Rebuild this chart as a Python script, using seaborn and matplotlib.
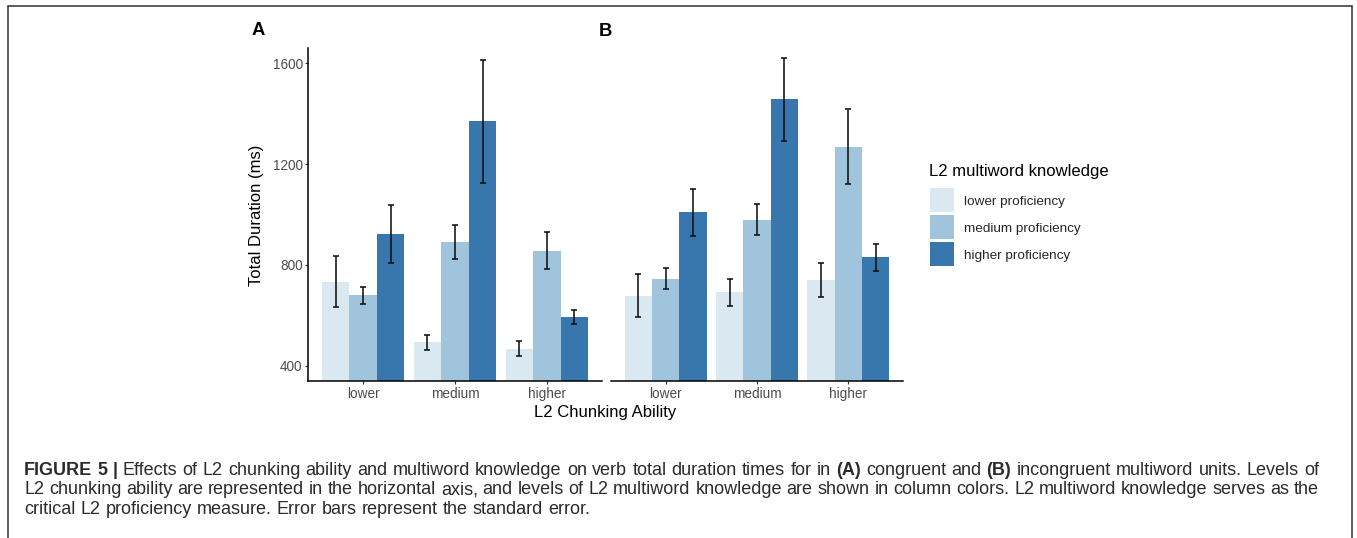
import numpy as np
import pandas as pd
import matplotlib
matplotlib.use("Agg")
import matplotlib.pyplot as plt
from matplotlib.lines import Line2D
from matplotlib.container import BarContainer
import seaborn as sns

# ---------------- data ----------------
chunk_levels = ["lower", "medium", "higher"]
know_levels = ["lower proficiency", "medium proficiency", "higher proficiency"]

# Panel A (congruent): rows = chunking level, cols = knowledge level
a_means = [[733, 680, 923],
           [493, 890, 1369],
           [468, 856, 593]]
a_se = [[101, 34, 116],
        [31, 68, 243],
        [30, 74, 29]]

# Panel B (incongruent)
b_means = [[678, 745, 1008],
           [692, 979, 1456],
           [739, 1269, 830]]
b_se = [[85, 41, 95],
        [53, 61, 163],
        [68, 149, 54]]

y_ticks = [400, 800, 1200, 1600]
palette = ["#DAE8F2", "#9FC4DB", "#3777AD"]

caption_lines = [
    "FIGURE 5 | Effects of L2 chunking ability and multiword knowledge on verb total duration times for in (A) congruent and (B) incongruent multiword units. Levels of",
    "L2 chunking ability are represented in the horizontal axis, and levels of L2 multiword knowledge are shown in column colors. L2 multiword knowledge serves as the",
    "critical L2 proficiency measure. Error bars represent the standard error.",
]
bold_words = {"FIGURE", "5", "|", "(A)", "(B)"}

# ---------------- style ----------------
sns.set_theme(style="white")
plt.rcParams["font.family"] = ["Liberation Sans", "DejaVu Sans"]

W, H = 1357, 538
fig = plt.figure(figsize=(W / 100, H / 100), dpi=100)


def fx(px):
    return px / W


def fy(py):
    return 1 - py / H


top_px, bot_px = 48, 381
axA = fig.add_axes([fx(308), fy(bot_px), fx(602) - fx(308), fy(top_px) - fy(bot_px)])
axB = fig.add_axes([fx(611), fy(bot_px), fx(903) - fx(611), fy(top_px) - fy(bot_px)])


def make_df(means, se):
    rows = []
    for i, c in enumerate(chunk_levels):
        for j, k in enumerate(know_levels):
            rows.append({"chunk": c, "know": k, "value": means[i][j], "se": se[i][j]})
    return pd.DataFrame(rows)


for ax, means, se, leg in [(axA, a_means, a_se, False), (axB, b_means, b_se, True)]:
    df = make_df(means, se)
    sns.barplot(data=df, x="chunk", y="value", hue="know", order=chunk_levels,
                hue_order=know_levels, palette=palette, saturation=1,
                errorbar=None, width=0.9, gap=0, linewidth=0, ax=ax, legend=leg)
    bar_conts = [c for c in ax.containers if isinstance(c, BarContainer)]
    for j, cont in enumerate(bar_conts):
        xs = [b.get_x() + b.get_width() / 2 for b in cont]
        ys = [means[i][j] for i in range(len(chunk_levels))]
        es = [se[i][j] for i in range(len(chunk_levels))]
        ax.errorbar(xs, ys, yerr=es, fmt="none", ecolor="#111111",
                    elinewidth=1.15, capsize=2.1, capthick=1.15, zorder=5)
    ax.set_xlim(-0.6, 2.6)
    ax.set_ylim(340, 1660)
    ax.set_xlabel("")
    ax.set_ylabel("")
    for s in ["top", "right"]:
        ax.spines[s].set_visible(False)
    ax.spines["bottom"].set_color("black")
    ax.spines["bottom"].set_linewidth(1.1)
    ax.tick_params(axis="x", length=2.3, width=0.8, color="#333333",
                   labelsize=9.8, labelcolor="#4D4D4D", pad=2.2, bottom=True)

axA.set_yticks(y_ticks)
axA.spines["left"].set_color("black")
axA.spines["left"].set_linewidth(1.1)
axA.tick_params(axis="y", length=2.3, width=0.8, color="#333333",
                labelsize=9.8, labelcolor="#4D4D4D", pad=1.5, left=True)
axB.spines["left"].set_visible(False)
axB.set_yticks([])

handles, labels = axB.get_legend_handles_labels()
axB.get_legend().remove()
leg = fig.legend(handles, labels, loc="upper left",
                 bbox_to_anchor=(fx(930), fy(188.5)), frameon=False,
                 fontsize=9.7, handlelength=1.78, handleheight=2.36,
                 labelspacing=0.22, handletextpad=0.74, borderpad=0,
                 borderaxespad=0)
fig.text(fx(929), fy(171.7), "L2 multiword knowledge", ha="left", va="center",
         fontsize=12, color="black")

# axis titles and panel tags
fig.text(fx(605), fy(412.5), "L2 Chunking Ability", ha="center", va="center",
         fontsize=12, color="black")
fig.text(fx(257), fy(215), "Total Duration (ms)", ha="center", va="center",
         rotation=90, fontsize=12, color="black")
fig.text(fx(258), fy(30.5), "A", ha="center", va="center", fontsize=13.3,
         fontweight="bold", color="black")
fig.text(fx(605), fy(31), "B", ha="center", va="center", fontsize=13.3,
         fontweight="bold", color="black")

# outer frame (open at the bottom)
frame_kw = dict(color="#333333", linewidth=1.1, transform=fig.transFigure)
fig.add_artist(Line2D([fx(8), fx(1351.5)], [fy(6), fy(6)], **frame_kw))
fig.add_artist(Line2D([fx(8), fx(8)], [fy(6), 0], **frame_kw))
fig.add_artist(Line2D([fx(1351.5), fx(1351.5)], [fy(6), 0], **frame_kw))

# caption (justified lines 1-2)
renderer = fig.canvas.get_renderer()
cap_left, cap_right = 24, 1319
cap_baselines = [475, 494.5, 514]
cap_color = "#2B2B2B"


def word_widths(words, size):
    ws = []
    for w in words:
        t = fig.text(0, 0, w, fontsize=size,
                     fontweight="bold" if w in bold_words else "normal")
        ws.append(t.get_window_extent(renderer).width)
        t.remove()
    return ws


base = 14.0
w1 = caption_lines[0].split(" ")
ww = word_widths(w1, base)
nat = sum(ww) + (len(w1) - 1) * 0.278 * base * 100 / 72
cap_size = base * (cap_right - cap_left) / nat
space_px = 0.278 * cap_size * 100 / 72

for li, line in enumerate(caption_lines):
    words = line.split(" ")
    ws = word_widths(words, cap_size)
    if li < 2:
        gap = (cap_right - cap_left - sum(ws)) / (len(words) - 1)
    else:
        gap = space_px
    x = cap_left
    for w, wd in zip(words, ws):
        fig.text(fx(x), fy(cap_baselines[li]), w, fontsize=cap_size, ha="left",
                 va="baseline",
                 fontweight="bold" if w in bold_words else "normal",
                 color=cap_color)
        x += wd + gap

fig.savefig("out.png", dpi=100)
